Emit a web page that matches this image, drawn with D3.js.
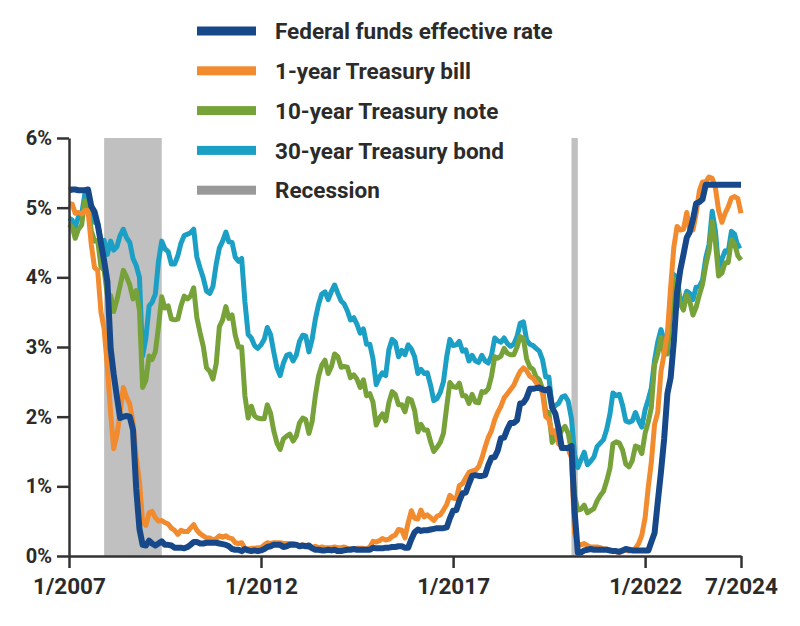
<!DOCTYPE html>
<html>
<head>
<meta charset="utf-8">
<script src="https://cdn.jsdelivr.net/npm/d3@7"></script>
<style>
  body { margin: 0; background: #fff; }
  svg text { font-family: "Roboto", "Liberation Sans", sans-serif; fill: #2b2b2b; }
</style>
</head>
<body>
<div id="chart"></div>
<script>
// monthly averages, 1/2007 .. 7/2024
var fedFunds = [
  5.25, 5.26, 5.26, 5.25, 5.25, 5.25, 5.26, 5.02, 4.94, 4.76, 4.49, 4.24,
  3.94, 2.98, 2.61, 2.28, 1.98, 2.00, 2.01, 2.00, 1.81, 0.97, 0.39, 0.16,
  0.15, 0.22, 0.18, 0.15, 0.18, 0.21, 0.16, 0.16, 0.15, 0.12, 0.12, 0.12,
  0.11, 0.13, 0.16, 0.20, 0.20, 0.18, 0.18, 0.19, 0.19, 0.19, 0.19, 0.18,
  0.17, 0.16, 0.14, 0.10, 0.09, 0.09, 0.07, 0.10, 0.08, 0.07, 0.08, 0.07,
  0.08, 0.10, 0.13, 0.14, 0.16, 0.16, 0.16, 0.13, 0.14, 0.16, 0.16, 0.16,
  0.14, 0.15, 0.14, 0.15, 0.11, 0.09, 0.09, 0.08, 0.08, 0.09, 0.08, 0.09,
  0.07, 0.07, 0.08, 0.09, 0.09, 0.10, 0.09, 0.09, 0.09, 0.09, 0.09, 0.12,
  0.11, 0.11, 0.11, 0.12, 0.12, 0.13, 0.13, 0.14, 0.14, 0.12, 0.12, 0.24,
  0.34, 0.38, 0.36, 0.37, 0.37, 0.38, 0.39, 0.40, 0.40, 0.40, 0.41, 0.54,
  0.65, 0.66, 0.79, 0.90, 0.91, 1.04, 1.15, 1.16, 1.15, 1.15, 1.16, 1.30,
  1.41, 1.42, 1.51, 1.69, 1.70, 1.82, 1.91, 1.91, 1.95, 2.19, 2.20, 2.27,
  2.40, 2.40, 2.41, 2.42, 2.39, 2.38, 2.40, 2.13, 2.04, 1.83, 1.55, 1.55,
  1.55, 1.58, 0.65, 0.05, 0.05, 0.08, 0.09, 0.10, 0.09, 0.09, 0.09, 0.09,
  0.09, 0.08, 0.07, 0.07, 0.06, 0.08, 0.10, 0.09, 0.08, 0.08, 0.08, 0.08,
  0.08, 0.08, 0.20, 0.33, 0.77, 1.21, 1.68, 2.33, 2.56, 3.08, 3.78, 4.10,
  4.33, 4.57, 4.65, 4.83, 5.06, 5.08, 5.12, 5.33, 5.33, 5.33, 5.33, 5.33,
  5.33, 5.33, 5.33, 5.33, 5.33, 5.33, 5.33
];

var tBill1 = [
  5.06, 5.05, 4.92, 4.93, 4.91, 4.96, 4.96, 4.47, 4.14, 4.10, 3.50, 3.26,
  2.71, 2.05, 1.54, 1.74, 2.06, 2.42, 2.28, 2.18, 1.91, 1.42, 1.07, 0.49,
  0.44, 0.62, 0.64, 0.55, 0.50, 0.51, 0.48, 0.46, 0.40, 0.37, 0.31, 0.37,
  0.35, 0.35, 0.40, 0.45, 0.37, 0.32, 0.29, 0.26, 0.26, 0.23, 0.25, 0.29,
  0.27, 0.29, 0.26, 0.25, 0.19, 0.18, 0.19, 0.11, 0.10, 0.11, 0.11, 0.12,
  0.12, 0.16, 0.19, 0.18, 0.19, 0.19, 0.19, 0.18, 0.18, 0.18, 0.18, 0.16,
  0.15, 0.16, 0.15, 0.12, 0.12, 0.14, 0.12, 0.13, 0.12, 0.12, 0.12, 0.13,
  0.12, 0.12, 0.13, 0.11, 0.10, 0.10, 0.11, 0.11, 0.11, 0.10, 0.13, 0.21,
  0.20, 0.22, 0.25, 0.23, 0.24, 0.28, 0.30, 0.38, 0.37, 0.26, 0.48, 0.65,
  0.54, 0.53, 0.66, 0.56, 0.59, 0.55, 0.51, 0.57, 0.59, 0.66, 0.74, 0.87,
  0.83, 0.82, 1.01, 1.04, 1.12, 1.20, 1.22, 1.23, 1.28, 1.40, 1.56, 1.70,
  1.80, 1.96, 2.06, 2.15, 2.27, 2.33, 2.39, 2.45, 2.56, 2.65, 2.70, 2.66,
  2.58, 2.55, 2.49, 2.43, 2.34, 2.00, 1.96, 1.77, 1.80, 1.61, 1.57, 1.55,
  1.53, 1.41, 0.33, 0.18, 0.16, 0.18, 0.15, 0.13, 0.13, 0.13, 0.12, 0.10,
  0.10, 0.07, 0.08, 0.06, 0.05, 0.07, 0.08, 0.07, 0.08, 0.11, 0.18, 0.30,
  0.55, 1.00, 1.34, 1.89, 2.06, 2.65, 2.90, 3.20, 3.86, 4.43, 4.73, 4.68,
  4.69, 4.93, 4.68, 4.68, 4.91, 5.24, 5.37, 5.37, 5.44, 5.42, 5.28, 4.96,
  4.79, 4.92, 5.01, 5.14, 5.16, 5.13, 4.92
];

var tNote10 = [
  4.76, 4.72, 4.56, 4.69, 4.75, 5.10, 5.00, 4.67, 4.52, 4.53, 4.15, 4.10,
  3.74, 3.74, 3.51, 3.68, 3.88, 4.10, 4.01, 3.89, 3.69, 3.81, 3.53, 2.42,
  2.52, 2.87, 2.82, 2.93, 3.29, 3.72, 3.56, 3.59, 3.40, 3.39, 3.40, 3.59,
  3.73, 3.69, 3.73, 3.85, 3.42, 3.20, 3.01, 2.70, 2.65, 2.54, 2.76, 3.29,
  3.39, 3.58, 3.41, 3.46, 3.17, 3.00, 3.00, 2.30, 1.98, 2.15, 2.01, 1.98,
  1.97, 1.97, 2.17, 2.05, 1.80, 1.62, 1.53, 1.68, 1.72, 1.75, 1.65, 1.72,
  1.91, 1.98, 1.96, 1.76, 1.93, 2.30, 2.58, 2.74, 2.81, 2.62, 2.72, 2.90,
  2.86, 2.71, 2.72, 2.71, 2.56, 2.60, 2.54, 2.42, 2.53, 2.30, 2.33, 2.21,
  1.88, 1.98, 2.04, 1.94, 2.20, 2.36, 2.32, 2.17, 2.17, 2.07, 2.26, 2.24,
  2.09, 1.78, 1.89, 1.81, 1.81, 1.64, 1.50, 1.56, 1.63, 1.76, 2.14, 2.49,
  2.43, 2.42, 2.48, 2.30, 2.30, 2.19, 2.32, 2.21, 2.20, 2.36, 2.35, 2.40,
  2.58, 2.86, 2.84, 2.87, 2.98, 2.91, 2.89, 2.89, 3.00, 3.15, 3.12, 2.83,
  2.71, 2.68, 2.57, 2.53, 2.40, 2.07, 2.06, 1.63, 1.70, 1.71, 1.81, 1.86,
  1.76, 1.50, 0.87, 0.66, 0.67, 0.73, 0.62, 0.65, 0.68, 0.79, 0.87, 0.93,
  1.08, 1.26, 1.61, 1.64, 1.62, 1.52, 1.32, 1.28, 1.37, 1.58, 1.56, 1.47,
  1.76, 1.93, 2.13, 2.75, 2.90, 3.14, 2.90, 2.90, 3.52, 3.98, 3.89, 3.62,
  3.53, 3.75, 3.66, 3.46, 3.57, 3.75, 3.90, 4.17, 4.38, 4.80, 4.50, 4.02,
  4.06, 4.21, 4.21, 4.54, 4.48, 4.31, 4.25
];

var tBond30 = [
  4.85, 4.82, 4.72, 4.87, 4.90, 5.20, 5.11, 4.93, 4.79, 4.77, 4.52, 4.53,
  4.33, 4.52, 4.39, 4.44, 4.60, 4.69, 4.57, 4.50, 4.27, 4.17, 4.00, 2.87,
  3.13, 3.59, 3.64, 3.76, 4.23, 4.52, 4.41, 4.37, 4.19, 4.19, 4.31, 4.49,
  4.60, 4.62, 4.64, 4.69, 4.29, 4.13, 3.99, 3.80, 3.77, 3.87, 4.19, 4.42,
  4.52, 4.65, 4.51, 4.50, 4.29, 4.23, 4.27, 3.65, 3.18, 3.13, 3.02, 2.98,
  3.03, 3.11, 3.28, 3.18, 2.93, 2.70, 2.59, 2.77, 2.88, 2.90, 2.80, 2.88,
  3.08, 3.17, 3.16, 2.93, 3.11, 3.40, 3.61, 3.76, 3.79, 3.68, 3.80, 3.89,
  3.77, 3.66, 3.62, 3.52, 3.39, 3.42, 3.33, 3.20, 3.26, 3.04, 3.04, 2.83,
  2.46, 2.57, 2.63, 2.59, 2.96, 3.11, 3.07, 2.86, 2.95, 2.89, 3.03, 2.97,
  2.86, 2.62, 2.68, 2.62, 2.63, 2.45, 2.23, 2.26, 2.35, 2.50, 2.86, 3.11,
  3.02, 3.03, 3.08, 2.94, 2.96, 2.80, 2.88, 2.80, 2.78, 2.88, 2.80, 2.77,
  2.88, 3.13, 3.09, 3.07, 3.13, 3.05, 3.01, 3.04, 3.15, 3.34, 3.36, 3.10,
  3.04, 3.02, 2.98, 2.94, 2.82, 2.57, 2.57, 2.12, 2.16, 2.19, 2.28, 2.30,
  2.22, 1.97, 1.46, 1.27, 1.38, 1.49, 1.31, 1.36, 1.42, 1.57, 1.62, 1.67,
  1.82, 2.04, 2.34, 2.30, 2.32, 2.16, 1.94, 1.92, 1.94, 2.06, 1.94, 1.85,
  2.10, 2.25, 2.41, 2.81, 3.07, 3.25, 3.10, 3.13, 3.56, 4.04, 4.00, 3.66,
  3.66, 3.80, 3.77, 3.68, 3.86, 3.87, 3.96, 4.28, 4.47, 4.95, 4.66, 4.14,
  4.26, 4.38, 4.36, 4.66, 4.62, 4.44, 4.46
];

var recessions = [["2007-12", "2009-06"], ["2020-02", "2020-04"]];
var xTickDates = ["2007-01", "2012-01", "2017-01", "2022-01", "2024-07"];
var xTickLabels = ["1/2007", "1/2012", "1/2017", "1/2022", "7/2024"];
var yTicks = [0, 1, 2, 3, 4, 5, 6];

var seriesNames = ["30-year Treasury bond", "10-year Treasury note", "1-year Treasury bill", "Federal funds effective rate"];
var seriesColors = ["#1b9fc4", "#77a23a", "#f28a2e", "#17488a"];
var legendNames = ["Federal funds effective rate", "1-year Treasury bill", "10-year Treasury note", "30-year Treasury bond", "Recession"];
var legendColors = ["#17488a", "#f28a2e", "#77a23a", "#1b9fc4", "#999999"];

const W = 800, H = 626;
const margin = { top: 138, right: 59, bottom: 70, left: 69 };

const parseMonth = d3.timeParse("%Y-%m");
const months = d3.timeMonth.range(parseMonth("2007-01"), d3.timeMonth.offset(parseMonth("2024-07"), 1));

const svg = d3.select("#chart").append("svg")
    .attr("width", W)
    .attr("height", H);

const x = d3.scaleTime()
    .domain([parseMonth("2007-01"), parseMonth("2024-07")])
    .range([margin.left, W - margin.right]);
const y = d3.scaleLinear()
    .domain([0, 6])
    .range([H - margin.bottom, margin.top]);

// recession bands
svg.selectAll(".recession")
    .data(recessions)
    .enter()
    .append("rect")
    .attr("class", "recession")
    .attr("x", d => x(parseMonth(d[0])))
    .attr("width", d => x(parseMonth(d[1])) - x(parseMonth(d[0])))
    .attr("y", y(6))
    .attr("height", y(0) - y(6))
    .attr("fill", "#c0c0c0");

// lines, back to front
const allSeries = [tBond30, tNote10, tBill1, fedFunds];
const line = d3.line()
    .x((d, i) => x(months[i]))
    .y(d => y(d));

svg.selectAll(".rate")
    .data(allSeries)
    .enter()
    .append("path")
    .attr("class", "rate")
    .attr("d", d => line(d))
    .attr("fill", "none")
    .attr("stroke", (d, i) => seriesColors[i])
    .attr("stroke-width", (d, i) => i == 3 ? 6 : 5)
    .attr("stroke-linejoin", "round");

// axes
const yAxis = d3.axisLeft(y)
    .tickValues(yTicks)
    .tickFormat(d => d + "%")
    .tickSize(12)
    .tickSizeOuter(0)
    .tickPadding(5);

svg.append("g")
    .attr("transform", `translate(${margin.left},0)`)
    .call(yAxis)
    .call(g => g.selectAll("path, line").attr("stroke", "#333").attr("stroke-width", 2.5))
    .call(g => g.selectAll("text").attr("font-size", 20).attr("font-weight", "bold").attr("fill", "#2b2b2b"));

const xAxis = d3.axisBottom(x)
    .tickValues(xTickDates.map(parseMonth))
    .tickFormat((d, i) => xTickLabels[i])
    .tickSize(12)
    .tickSizeOuter(0)
    .tickPadding(10);

svg.append("g")
    .attr("transform", `translate(0,${y(0)})`)
    .call(xAxis)
    .call(g => g.selectAll("path, line").attr("stroke", "#333").attr("stroke-width", 2.5))
    .call(g => g.selectAll("text").attr("font-size", 22.5).attr("font-weight", "bold").attr("fill", "#2b2b2b"));

// legend
const legend = svg.append("g")
    .attr("transform", "translate(197,31)");

const rows = legend.selectAll(".row")
    .data(legendNames)
    .enter()
    .append("g")
    .attr("class", "row")
    .attr("transform", (d, i) => `translate(0,${i * 39.8})`);

rows.append("rect")
    .attr("x", 0)
    .attr("y", -4.5)
    .attr("width", 59)
    .attr("height", 9)
    .attr("fill", (d, i) => legendColors[i]);

rows.append("text")
    .attr("x", 78)
    .attr("dy", "0.36em")
    .attr("font-size", 22.5)
    .attr("font-weight", "bold")
    .text(d => d);
</script>
</body>
</html>
